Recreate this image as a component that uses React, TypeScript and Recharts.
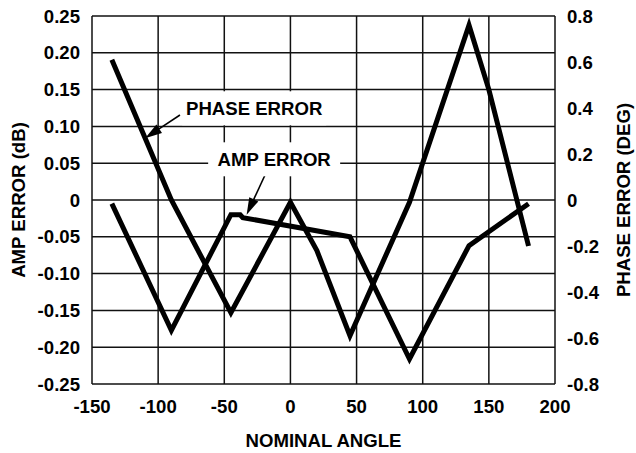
import React from 'react';
import { LineChart, Line, XAxis, YAxis, CartesianGrid, ReferenceDot, ReferenceLine, Label } from 'recharts';

// Nominal angle (deg) sample points and values
const phaseAngles = [-135, -90, -45, 0, 20, 45, 90, 135, 150, 180];
const phaseErrorDeg = [0.61, 0.0, -0.49, -0.01, -0.22, -0.59, -0.01, 0.76, 0.48, -0.2];

const ampAngles = [-135, -90, -45, -38, -36, 45, 90, 135, 180];
const ampErrorDb = [-0.005, -0.177, -0.02, -0.02, -0.024, -0.05, -0.216, -0.062, -0.005];

const xTicks = [-150, -100, -50, 0, 50, 100, 150, 200];
const ampTicks = [-0.25, -0.2, -0.15, -0.1, -0.05, 0, 0.05, 0.1, 0.15, 0.2, 0.25];
const ampTickLabels = ['-0.25', '-0.20', '-0.15', '-0.10', '-0.05', '0', '0.05', '0.10', '0.15', '0.20', '0.25'];
const phaseTicks = [-0.8, -0.6, -0.4, -0.2, 0, 0.2, 0.4, 0.6, 0.8];
const phaseTickLabels = ['-0.8', '-0.6', '-0.4', '-0.2', '0', '0.2', '0.4', '0.6', '0.8'];

const phaseData = phaseAngles.map((x, i) => ({ x, y: phaseErrorDeg[i] }));
const ampData = ampAngles.map((x, i) => ({ x, y: ampErrorDb[i] }));

// annotation anchors (data coords, left axis)
const phaseLabelPos = { x: -27.4, y: 0.1246 };
const ampLabelPos = { x: -12.3, y: 0.0553 };
const phaseArrow = [{ x: -83.5, y: 0.1155 }, { x: -109.9, y: 0.084 }];
const ampArrow = [{ x: -19.2, y: 0.034 }, { x: -33.1, y: -0.02 }];

const FONT = 'Liberation Sans, Arial, Helvetica, sans-serif';
const textStyle = { fontFamily: FONT, fontWeight: 700, fontSize: 18.6, fill: '#000' };

const Arrow = (props: any) => {
  const { x1, y1, x2, y2 } = props;
  const dx = x2 - x1;
  const dy = y2 - y1;
  const len = Math.sqrt(dx * dx + dy * dy) || 1;
  const ux = dx / len;
  const uy = dy / len;
  const headLen = 17;
  const halfW = 5;
  const bx = x2 - ux * headLen;
  const by = y2 - uy * headLen;
  const px = -uy;
  const py = ux;
  return (
    <g>
      <line x1={x1} y1={y1} x2={bx + ux * 2} y2={by + uy * 2} stroke="#000" strokeWidth={1.6} />
      <polygon
        points={`${x2},${y2} ${bx + px * halfW},${by + py * halfW} ${bx - px * halfW},${by - py * halfW}`}
        fill="#000"
      />
    </g>
  );
};

const boxLabel = (text: string, halfW: number) => (props: any) => {
  const { cx, cy } = props;
  return (
    <g>
      <rect x={cx - halfW} y={cy - 17} width={halfW * 2} height={34} fill="#fff" />
      <text x={cx} y={cy + 6.7} textAnchor="middle" style={textStyle}>
        {text}
      </text>
    </g>
  );
};

export default function App() {
  return (
    <div style={{ position: 'absolute', left: 0, top: 0, background: '#fff' }}>
      <LineChart width={636} height={453} margin={{ top: 16, right: 0, bottom: 0, left: 0 }}>
        <CartesianGrid yAxisId="left" stroke="#111" strokeWidth={1.5} horizontal vertical />
        <XAxis
          dataKey="x"
          type="number"
          domain={[-150, 200]}
          ticks={xTicks}
          allowDataOverflow
          height={69}
          tickLine={false}
          tickSize={0}
          tickMargin={16}
          axisLine={false}
          tick={{ ...textStyle }}
        >
          <Label
            content={(p: any) => {
              const vb = p.viewBox || { x: 92, y: 384, width: 463, height: 69 };
              return (
                <text x={vb.x + vb.width / 2} y={vb.y + 62.7} textAnchor="middle" style={textStyle}>
                  NOMINAL ANGLE
                </text>
              );
            }}
          />
        </XAxis>
        <YAxis
          yAxisId="left"
          orientation="left"
          type="number"
          domain={[-0.25, 0.25]}
          ticks={ampTicks}
          tickFormatter={(v: number) => ampTickLabels[ampTicks.findIndex((t) => Math.abs(t - v) < 1e-9)]}
          allowDataOverflow
          width={92}
          tickLine={false}
          tickSize={0}
          tickMargin={12}
          axisLine={false}
          tick={{ ...textStyle }}
        >
          <Label
            content={(p: any) => {
              const vb = p.viewBox || { x: 0, y: 16, width: 92, height: 368 };
              const cx = vb.x + 18.5;
              const cy = vb.y + vb.height / 2;
              return (
                <text
                  x={cx}
                  y={cy}
                  transform={`rotate(-90, ${cx}, ${cy})`}
                  textAnchor="middle"
                  dominantBaseline="central"
                  style={textStyle}
                >
                  AMP ERROR (dB)
                </text>
              );
            }}
          />
        </YAxis>
        <YAxis
          yAxisId="right"
          orientation="right"
          type="number"
          domain={[-0.8, 0.8]}
          ticks={phaseTicks}
          tickFormatter={(v: number) => phaseTickLabels[phaseTicks.findIndex((t) => Math.abs(t - v) < 1e-9)]}
          allowDataOverflow
          width={81}
          tickLine={false}
          tickSize={0}
          tickMargin={12}
          axisLine={false}
          tick={{ ...textStyle }}
        >
          <Label
            content={(p: any) => {
              const vb = p.viewBox || { x: 555, y: 16, width: 81, height: 368 };
              const cx = vb.x + 68.5;
              const cy = vb.y + vb.height / 2;
              return (
                <text
                  x={cx}
                  y={cy}
                  transform={`rotate(-90, ${cx}, ${cy})`}
                  textAnchor="middle"
                  dominantBaseline="central"
                  style={textStyle}
                >
                  PHASE ERROR (DEG)
                </text>
              );
            }}
          />
        </YAxis>
        <ReferenceDot yAxisId="left" x={phaseLabelPos.x} y={phaseLabelPos.y} shape={boxLabel('PHASE ERROR', 72)} />
        <ReferenceDot yAxisId="left" x={ampLabelPos.x} y={ampLabelPos.y} shape={boxLabel('AMP ERROR', 66)} />
        <Line
          yAxisId="right"
          data={phaseData}
          dataKey="y"
          type="linear"
          stroke="#000"
          strokeWidth={5}
          dot={false}
          activeDot={false}
          isAnimationActive={false}
          strokeLinejoin="miter"
        />
        <Line
          yAxisId="left"
          data={ampData}
          dataKey="y"
          type="linear"
          stroke="#000"
          strokeWidth={5}
          dot={false}
          activeDot={false}
          isAnimationActive={false}
          strokeLinejoin="miter"
        />
        <ReferenceLine yAxisId="left" segment={phaseArrow} shape={Arrow} />
        <ReferenceLine yAxisId="left" segment={ampArrow} shape={Arrow} />
      </LineChart>
    </div>
  );
}
